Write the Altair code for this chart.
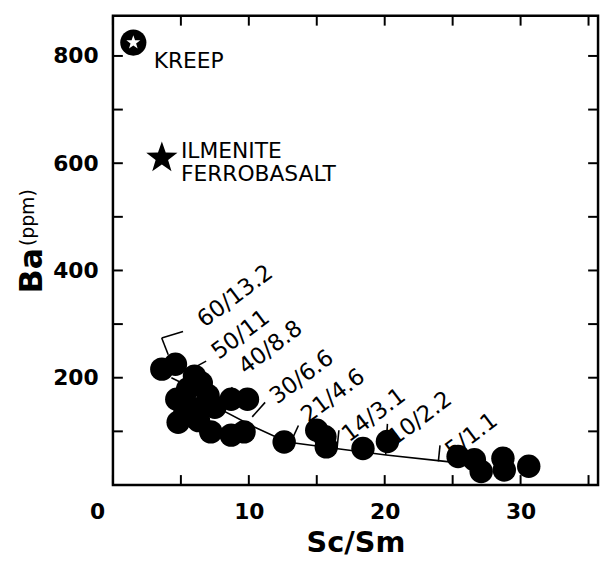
import math
import altair as alt
import pandas as pd

# ---------------- data ----------------
sample_x = [3.6, 4.6, 6.0, 4.7, 4.8, 6.0, 5.5, 7.0, 7.2, 8.7, 9.9, 8.7, 9.65,
            5.3, 6.3, 6.5, 7.5, 12.6, 15.0, 15.6, 15.7, 18.4, 20.2,
            25.4, 26.6, 27.1, 28.7, 28.8, 30.6]
sample_y = [216, 225, 203, 160, 117, 142, 179, 167, 99, 160, 160, 93, 99,
            135, 120, 190, 145, 80, 102, 90, 71, 68, 81,
            53, 47, 25, 50, 28, 35]

mix_x = [4.3, 5.9, 8.0, 10.4, 12.8, 16.4, 20.1, 24.1, 27.0]
mix_y = [200, 180, 140, 108, 80, 68, 56, 45, 37]

mix_labels = ["60/13.2", "50/11", "40/8.8", "30/6.6", "21/4.6", "14/3.1", "10/2.2", "5/1.1"]
label_x = [9.0, 9.4, 11.6, 13.9, 16.2, 19.2, 22.6, 26.4]
label_y = [352, 280, 256, 201, 166, 130, 124, 92]

lead_x1 = [3.59, 3.59, 5.77, 8.07, 10.25, 13.04, 16.49, 20.07, 23.95]
lead_y1 = [274, 274, 216, 164, 127, 77, 68, 56, 44]
lead_x2 = [5.16, 4.07, 6.86, 8.8, 11.2, 13.65, 16.63, 20.2, 24.07]
lead_y2 = [286, 243, 231, 182, 154, 111, 102, 114, 74]

end_names = ["KREEP", "ILMENITE", "FERROBASALT"]
end_text_x = [3.0, 5.0, 5.0]
end_text_y = [791, 622, 579]

kreep_x, kreep_y = [1.5], [825]
ilm_x, ilm_y = [3.6], [610]

x_ticks = [0, 5, 10, 15, 20, 25, 30, 35]
y_ticks = [0, 100, 200, 300, 400, 500, 600, 700, 800]

W, H = 490, 474
FONT = "DejaVu Sans"

# five-pointed star symbol path (unit coordinates)
_pts = []
for k in range(10):
    r = 1.0 if k % 2 == 0 else 0.4
    a = math.radians(-90 + 36 * k)
    _pts.append(f"{r * math.cos(a):.3f},{r * math.sin(a):.3f}")
STAR = "M" + " L".join(_pts) + " Z"

xs = alt.Scale(domain=[0, 35.7], nice=False, zero=False)
ys = alt.Scale(domain=[0, 875], nice=False, zero=False)

samples = pd.DataFrame({"x": sample_x, "y": sample_y})
mix = pd.DataFrame({"x": mix_x, "y": mix_y, "o": list(range(len(mix_x)))})
labels = pd.DataFrame({"x": label_x, "y": label_y, "t": mix_labels})
leads = pd.DataFrame({"x": lead_x1, "y": lead_y1, "x2": lead_x2, "y2": lead_y2})
ends = pd.DataFrame({"x": end_text_x, "y": end_text_y, "t": end_names})
kreep = pd.DataFrame({"x": kreep_x, "y": kreep_y})
ilm = pd.DataFrame({"x": ilm_x, "y": ilm_y})
xt = pd.DataFrame({"x": x_ticks})
yt = pd.DataFrame({"y": y_ticks})

x_axis = alt.Axis(
    orient="bottom",
    values=x_ticks,
    labelExpr="datum.value % 10 == 0 ? datum.label : ''",
    labelOffset={"condition": {"test": "datum.value === 0", "value": -16}, "value": 0},
    ticks=False, domain=False, grid=False,
    labelFont=FONT, labelFontWeight="bold", labelFontSize=22, labelColor="black",
    labelPadding=17, labelFlush=False,
    title="Sc/Sm", titleFont=FONT, titleFontWeight="bold", titleFontSize=29,
    titleColor="black", titleBaseline="middle", titleY=58,
)
y_axis = alt.Axis(
    orient="left",
    values=y_ticks,
    labelExpr="(datum.value == 0 || datum.value % 200 != 0) ? '' : datum.label",
    ticks=False, domain=False, grid=False,
    labelFont=FONT, labelFontWeight="bold", labelFontSize=22, labelColor="black",
    labelPadding=15, labelFlush=False,
    title="Ba", titleFont=FONT, titleFontWeight="bold", titleFontSize=32,
    titleColor="black", titleAngle=270, titleAlign="center", titleBaseline="middle",
    titleX=-82, titleY=257,
)

points = alt.Chart(samples).mark_point(
    shape="circle", size=560, filled=True, color="black", opacity=1
).encode(x=alt.X("x:Q", scale=xs, axis=x_axis), y=alt.Y("y:Q", scale=ys, axis=y_axis))

line = alt.Chart(mix).mark_line(color="black", strokeWidth=1.6).encode(
    x=alt.X("x:Q", scale=xs), y=alt.Y("y:Q", scale=ys), order="o:Q")

leaders = alt.Chart(leads).mark_rule(color="black", strokeWidth=1.6).encode(
    x=alt.X("x:Q", scale=xs), y=alt.Y("y:Q", scale=ys), x2="x2:Q", y2="y2:Q")

mix_text = alt.Chart(labels).mark_text(
    angle=323, font=FONT, fontSize=23, color="black", align="center", baseline="middle"
).encode(x=alt.X("x:Q", scale=xs), y=alt.Y("y:Q", scale=ys), text="t:N")

end_text = alt.Chart(ends).mark_text(
    font=FONT, fontSize=22, color="black", align="left", baseline="middle"
).encode(x=alt.X("x:Q", scale=xs), y=alt.Y("y:Q", scale=ys), text="t:N")

kreep_disc = alt.Chart(kreep).mark_point(
    shape="circle", size=700, filled=True, color="black", opacity=1
).encode(x=alt.X("x:Q", scale=xs), y=alt.Y("y:Q", scale=ys))
kreep_star = alt.Chart(kreep).mark_point(
    shape=STAR, size=220, filled=True, color="white", opacity=1
).encode(x=alt.X("x:Q", scale=xs), y=alt.Y("y:Q", scale=ys))
ilm_star = alt.Chart(ilm).mark_point(
    shape=STAR, size=1100, filled=True, color="black", opacity=1
).encode(x=alt.X("x:Q", scale=xs), y=alt.Y("y:Q", scale=ys))

# inward ticks on all four sides
tick_b = alt.Chart(xt).mark_rule(color="black", strokeWidth=2).encode(
    x=alt.X("x:Q", scale=xs), y=alt.value(H), y2=alt.value(H - 10))
tick_t = alt.Chart(xt).mark_rule(color="black", strokeWidth=2).encode(
    x=alt.X("x:Q", scale=xs), y=alt.value(0), y2=alt.value(10))
tick_l = alt.Chart(yt).mark_rule(color="black", strokeWidth=2).encode(
    y=alt.Y("y:Q", scale=ys), x=alt.value(0), x2=alt.value(10))
tick_r = alt.Chart(yt).mark_rule(color="black", strokeWidth=2).encode(
    y=alt.Y("y:Q", scale=ys), x=alt.value(W), x2=alt.value(W - 10))

ppm_df = pd.DataFrame({"t": ["(ppm)"]})
ppm_title = alt.Chart(ppm_df).mark_text(
    angle=270, font=FONT, fontSize=19, color="black",
    align="center", baseline="middle"
).encode(x=alt.value(-86), y=alt.value(204), text="t:N")

chart = alt.layer(
    points, line, leaders, mix_text, end_text, kreep_disc, kreep_star, ilm_star,
    tick_b, tick_t, tick_l, tick_r, ppm_title
).properties(
    width=W, height=H,
    autosize=alt.AutoSizeParams(type="none"),
    padding={"left": 106, "top": 5, "right": 4, "bottom": 76},
    background="white",
).configure_view(stroke="black", strokeWidth=2.5)

chart.save("out.html", embed_options={"renderer": "svg", "actions": False})
